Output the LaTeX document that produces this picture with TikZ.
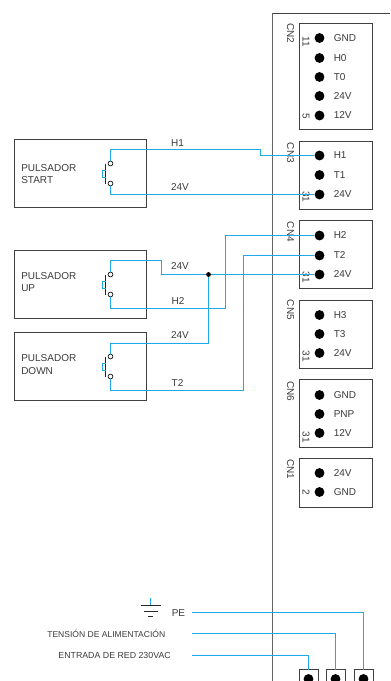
\documentclass[tikz,border=0pt]{standalone}
\usepackage{fontspec}
\setmainfont{Liberation Sans}
\usepackage{tikz}

\definecolor{wirecol}{HTML}{1FA9E6}
\definecolor{textcol}{HTML}{3A3A3A}

\tikzset{
  box/.style={draw=black!75, line width=0.75pt, inner sep=0, outer sep=0},
  txt/.style={text=textcol, font=\fontsize{7.5}{9}\selectfont, inner sep=0},
  smalltxt/.style={text=textcol, font=\fontsize{6.6}{8}\selectfont, inner sep=0},
  wire/.style={draw=wirecol, line width=0.85pt},
  pin/.style={circle, fill=black, inner sep=0, minimum size=7.4pt},
  contact/.style={circle, draw=black!85, fill=white, line width=0.6pt, inner sep=0, minimum size=3.6pt},
  junction/.style={circle, fill=black, inner sep=0, minimum size=3.6pt}
}

\begin{document}
\begin{tikzpicture}[x=0.75pt,y=-0.75pt]
\useasboundingbox (0,0) rectangle (390,681);
\clip (0,0) rectangle (390,681);

% base plate
\coordinate (platetop) at (390,13.5);
\coordinate (platecorner) at (272.5,13.5);
\coordinate (platebot) at (272.5,681);
\draw[black!60, line width=1.1pt] (platecorner) -- (platebot);
\draw[black!75, line width=0.75pt] (platecorner) -- (platetop);

% connector boxes
\foreach \name/\cy/\h in {cntwo/76.5/106, cnthree/175.5/68, cnfour/254.5/68, cnfive/334.5/68, cnsix/413.5/68, cnone/483/49}
{
  \node[box, minimum width=54.75pt, minimum height={\h*0.75pt}] (\name) at (336,\cy) {};
}
\node[txt, rotate=-90] (cntwolbl) at (290.5,33.5) {CN2};
\node[txt, rotate=-90] (cnthreelbl) at (290.5,153) {CN3};
\node[txt, rotate=-90] (cnfourlbl) at (290.5,232) {CN4};
\node[txt, rotate=-90] (cnfivelbl) at (290.5,310) {CN5};
\node[txt, rotate=-90] (cnsixlbl) at (290.5,391) {CN6};
\node[txt, rotate=-90] (cnonelbl) at (290.5,469) {CN1};

% pins
\foreach \name/\y/\t in {ptwoa/38/GND, ptwob/58/H0, ptwoc/77/T0, ptwod/96/24V, ptwoe/115.5/12V,
  pthreea/155.5/H1, pthreeb/175/T1, pthreec/194.5/24V,
  pfoura/235.5/H2, pfourb/255.5/T2, pfourc/274.5/24V,
  pfivea/315/H3, pfiveb/334/T3, pfivec/353/24V,
  psixa/395/GND, psixb/414/PNP, psixc/433/12V,
  ponea/473/24V, poneb/492/GND}
{
  \node[pin] (\name) at (319.5,\y) {};
  \node[txt, anchor=west] (\name lbl) at (333.5,\y) {\t};
}

% pin numbers
\foreach \name/\y/\t in {nta/42/11, ntb/116/5, nthree/197/31, nfour/277/31, nfive/356/31, nsix/437/31, none/492/2}
{
  \node[txt, rotate=-90] (\name) at (306,\y) {\t};
}

% pushbuttons
\node[box, minimum width=99pt, minimum height=51pt] (start) at (80.5,173.5) {};
\node[box, minimum width=99pt, minimum height=51pt] (up) at (80.5,284.5) {};
\node[box, minimum width=99pt, minimum height=51pt] (down) at (80.5,366.5) {};
\node[txt, anchor=west, align=left] (startlbl) at (21,174) {PULSADOR\\[0.4pt]START};
\node[txt, anchor=west, align=left] (uplbl) at (21,282) {PULSADOR\\[0.4pt]UP};
\node[txt, anchor=west, align=left] (downlbl) at (21,364.5) {PULSADOR\\[0.4pt]DOWN};

% contacts and button
\foreach \name/\ya/\yb in {start/163.5/183.5, up/274.5/294.5, down/356.5/376.5}
{
  \draw[black!85, line width=0.6pt] (105.5,\ya) -- (105.5,\yb);
  \draw[wirecol, line width=0.7pt] (105.5,{(\ya+\yb)/2-3.5}) -- (102.5,{(\ya+\yb)/2-3.5}) -- (102.5,{(\ya+\yb)/2+3.5}) -- (105.5,{(\ya+\yb)/2+3.5});
  \node[contact] (\name a) at (110.5,\ya) {};
  \node[contact] (\name b) at (110.5,\yb) {};
}

% wires
\node[junction] (jn) at (208.5,274.5) {};
\draw[wire] (starta) |- (260.5,149.5) |- (pthreea);
\draw[wire] (startb) |- (pthreec);
\draw[wire] (upa) |- (161.5,260.5) |- (jn);
\draw[wire] (jn) -- (pfourc);
\draw[wire] (upb) |- (225.5,308.5) |- (pfoura);
\draw[wire] (downa) |- (208.5,343.5) -- (jn);
\draw[wire] (downb) |- (243.5,390.5) |- (pfourb);

% wire labels
\node[txt] (hone) at (177.5,143) {H1};
\node[txt] (vstart) at (180,187) {24V};
\node[txt] (vup) at (180,266) {24V};
\node[txt] (htwo) at (178,301) {H2};
\node[txt] (vdown) at (180,335) {24V};
\node[txt] (ttwo) at (177.5,383) {T2};

% earth symbol
\coordinate (earthtop) at (150.5,598);
\coordinate (earthbot) at (150.5,605.5);
\draw[wirecol, line width=0.75pt] (earthtop) -- (earthbot);
\draw[black!85, line width=0.6pt] (140.7,605.5) -- (161,605.5);
\draw[black!85, line width=0.6pt] (144,611.5) -- (158,611.5);
\draw[black!85, line width=0.6pt] (148,616.5) -- (153,616.5);

% mains terminals
\foreach \name/\x in {terma/308.5, termb/335.5, termc/363.5}
{
  \node[box, anchor=north, minimum width=14.25pt, minimum height=18pt] (\name) at (\x,669.5) {};
  \node[pin] (\name p) at (\x,679) {};
}

% mains input
\node[txt, anchor=west] (pe) at (171.5,613) {PE};
\node[smalltxt, anchor=east, font=\fontsize{6.4}{8}\selectfont] (supply) at (165.5,634) {TENSIÓN DE ALIMENTACIÓN};
\node[smalltxt, anchor=east] (entry) at (171,655.5) {ENTRADA DE RED 230VAC};
\coordinate (pewire) at (192,612.5);
\coordinate (supplywire) at (192,633.5);
\coordinate (entrywire) at (192,655.5);
\draw[wire] (pewire) -| (termc.north);
\draw[wire] (supplywire) -| (termb.north);
\draw[wire] (entrywire) -| (terma.north);
\end{tikzpicture}
\end{document}
